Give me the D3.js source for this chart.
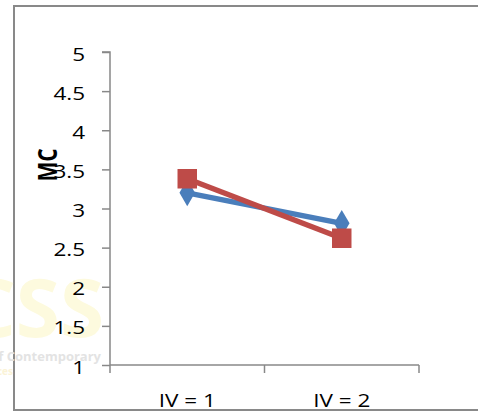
<!DOCTYPE html>
<html>
<head>
<meta charset="utf-8">
<script src="https://cdn.jsdelivr.net/npm/d3@7"></script>
<style>
  html, body { margin: 0; padding: 0; background: #fff; }
  svg { display: block; }
</style>
</head>
<body>
<svg id="chart" width="478" height="413"></svg>
<script>
const categories = ["IV = 1", "IV = 2"];
const seriesBlue = [3.2, 2.81];
const seriesRed = [3.38, 2.62];
const yTicks = [1, 1.5, 2, 2.5, 3, 3.5, 4, 4.5, 5];
const yTitle = "MC";

const svg = d3.select("#chart");
const font = "'Open Sans', 'Liberation Sans', sans-serif";
const stretch = 1.25;

// outer frame
svg.append("rect").attr("x", 14).attr("y", 6).attr("width", 480).attr("height", 404)
  .attr("fill", "#fff").attr("stroke", "#898989").attr("stroke-width", 2);

// watermark
const wm = svg.append("g").attr("pointer-events", "none");
wm.append("text").attr("x", 104).attr("y", 337).attr("text-anchor", "end")
  .attr("font-family", font).attr("font-weight", "bold").attr("font-size", 80)
  .attr("fill", "#fdfade").text("JCSS");
wm.append("text").attr("x", 101).attr("y", 361).attr("text-anchor", "end")
  .attr("font-family", font).attr("font-weight", "bold").attr("font-size", 13)
  .attr("fill", "#e3e3e3").text("Journal of Contemporary");
wm.append("text").attr("x", 13).attr("y", 375).attr("text-anchor", "end")
  .attr("font-family", font).attr("font-weight", "bold").attr("font-size", 10)
  .attr("fill", "#fbf3d6").text("Sciences");

const x = d3.scaleBand().domain(categories).range([110, 419]).padding(0);
const y = d3.scaleLinear().domain([1, 5]).range([365, 52]);
const axisColor = "#888888";

// y axis
const yAxis = d3.axisLeft(y).tickValues(yTicks).tickSize(8).tickPadding(17)
  .tickFormat(d3.format("~g"));
const gy = svg.append("g").attr("transform", "translate(110,0)").call(yAxis);
gy.select(".domain").attr("stroke", axisColor).attr("stroke-width", 1.5)
  .attr("d", `M-8,${y(5)}H0V${y(1) + 8}`);
gy.selectAll(".tick line").attr("stroke", axisColor).attr("stroke-width", 1.5);
gy.selectAll(".tick text").attr("font-family", font).attr("font-size", 18)
  .attr("fill", "#000").attr("dy", null).attr("y", 8)
  .attr("x", -25 / stretch).attr("transform", `scale(${stretch},1)`);

// x axis
const gx = svg.append("g").attr("transform", `translate(0,${y(1)})`);
gx.append("line").attr("x1", 110).attr("x2", 419).attr("y1", 0).attr("y2", 0)
  .attr("stroke", axisColor).attr("stroke-width", 1.5);
const boundaries = categories.map(c => x(c)).concat([x(categories[categories.length - 1]) + x.bandwidth()]);
gx.selectAll("line.tk").data(boundaries.slice(1)).join("line").attr("class", "tk")
  .attr("x1", d => d).attr("x2", d => d).attr("y1", 0).attr("y2", 8)
  .attr("stroke", axisColor).attr("stroke-width", 1.5);
gx.selectAll("text").data(categories).join("text")
  .attr("transform", d => `translate(${x(d) + x.bandwidth() / 2},42) scale(${stretch},1)`)
  .attr("text-anchor", "middle").attr("font-family", font).attr("font-size", 18)
  .attr("fill", "#000").text(d => d);

// y title
svg.append("text").attr("transform", `translate(57,165) rotate(-90) scale(1,${stretch})`)
  .attr("text-anchor", "middle").attr("font-family", font).attr("font-weight", "bold")
  .attr("font-size", 21).attr("fill", "#000").text(yTitle);

const cx = d => x(d) + x.bandwidth() / 2;
const line = d3.line().x(d => cx(d.c)).y(d => y(d.v));

function drawSeries(values, color, shape, size) {
  const pts = categories.map((c, i) => ({ c, v: values[i] }));
  svg.append("path").datum(pts).attr("d", line).attr("fill", "none")
    .attr("stroke", color).attr("stroke-width", 5.5);
  svg.selectAll(null).data(pts).join("path")
    .attr("transform", d => `translate(${cx(d.c)},${y(d.v)})`)
    .attr("d", d3.symbol().type(shape).size(size))
    .attr("fill", color);
}
drawSeries(seriesBlue, "#4a7ebb", d3.symbolDiamond, 210);
drawSeries(seriesRed, "#be4b48", d3.symbolSquare, 380);
</script>
</body>
</html>
